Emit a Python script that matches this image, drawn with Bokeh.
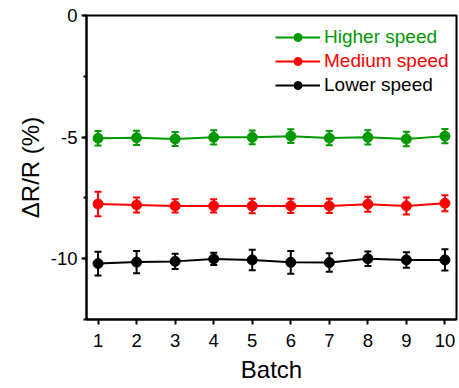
from bokeh.plotting import figure
from bokeh.models import (ColumnDataSource, Whisker, TeeHead, Legend, LegendItem,
                          FixedTicker, SingleIntervalTicker, Range1d)
from bokeh.embed import file_html
from bokeh.resources import INLINE

# Resistance change per batch at three speeds (mean and error)
batch = [1, 2, 3, 4, 5, 6, 7, 8, 9, 10]
higher = [-5.05, -5.03, -5.08, -5.01, -5.01, -4.96, -5.04, -5.01, -5.08, -4.96]
higher_err = [0.30, 0.29, 0.29, 0.29, 0.28, 0.28, 0.29, 0.29, 0.30, 0.29]
medium = [-7.75, -7.79, -7.83, -7.83, -7.83, -7.83, -7.83, -7.76, -7.83, -7.72]
medium_err = [0.50, 0.31, 0.27, 0.27, 0.30, 0.29, 0.29, 0.31, 0.35, 0.33]
lower = [-10.20, -10.14, -10.11, -10.01, -10.05, -10.15, -10.16, -10.00, -10.05, -10.05]
lower_err = [0.49, 0.46, 0.31, 0.25, 0.42, 0.47, 0.38, 0.30, 0.32, 0.44]

# y tick labels written with a plain hyphen
y_ticks = [0, -5, -10]
y_tick_labels = ["0", "-5", "-10"]

series = [
    ("Higher speed", higher, higher_err, "#009900"),
    ("Medium speed", medium, medium_err, "#ff0000"),
    ("Lower speed", lower, lower_err, "#000000"),
]

FONT = "Liberation Sans"

p = figure(width=459, height=388, output_backend="svg", toolbar_location=None,
           x_range=Range1d(0.7, 10.3), y_range=Range1d(-12.5, 0))
p.min_border_left = 86
p.min_border_right = 3
p.min_border_top = 15
p.min_border_bottom = 69
p.xgrid.visible = False
p.ygrid.visible = False
p.outline_line_color = "black"
p.outline_line_width = 2
p.background_fill_color = "white"
p.border_fill_color = "white"

p.xaxis.ticker = FixedTicker(ticks=batch)
p.yaxis.ticker = SingleIntervalTicker(interval=5, num_minor_ticks=2)
p.yaxis.major_label_overrides = dict(zip(y_ticks, y_tick_labels))
p.xaxis.axis_label = "Batch"
p.yaxis.axis_label = "ΔR/R (%)"
for ax in (p.xaxis[0], p.yaxis[0]):
    ax.axis_line_width = 2
    ax.major_tick_line_width = 2
    ax.minor_tick_line_width = 2
    ax.major_tick_out = 5
    ax.major_tick_in = 0
    ax.minor_tick_out = 3
    ax.minor_tick_in = 0
    ax.major_label_text_font = FONT
    ax.major_label_text_font_size = "18.5px"
    ax.major_label_text_color = "black"
    ax.axis_label_text_font = FONT
    ax.axis_label_text_font_size = "24px"
    ax.axis_label_text_font_style = "normal"
    ax.axis_label_text_color = "black"
p.yaxis.major_label_standoff = 4
p.yaxis.axis_label_standoff = 4
p.xaxis.major_label_standoff = 9
p.xaxis.axis_label_standoff = 6

for i, (name, vals, errs, color) in enumerate(series):
    src = ColumnDataSource(dict(
        x=batch, y=vals,
        upper=[v + e for v, e in zip(vals, errs)],
        lower=[v - e for v, e in zip(vals, errs)],
    ))
    w = Whisker(base="x", upper="upper", lower="lower", source=src,
                line_color=color, line_width=2,
                upper_head=TeeHead(size=7, line_color=color, line_width=2),
                lower_head=TeeHead(size=7, line_color=color, line_width=2))
    p.add_layout(w)
    ln = p.line("x", "y", source=src, line_color=color, line_width=2)
    sc = p.scatter("x", "y", source=src, size=10, fill_color=color, line_color=color)
    lg = Legend(items=[LegendItem(label=name, renderers=[ln, sc])],
                location=(189, 271 - i * 23.8),
                padding=0, margin=0, spacing=0,
                glyph_width=45, glyph_height=20, label_height=20,
                label_standoff=4,
                label_text_font=FONT, label_text_font_size="19px",
                label_text_color=color,
                border_line_alpha=0, background_fill_alpha=0)
    p.add_layout(lg, "center")

open("out.html", "w").write(file_html(p, INLINE))
